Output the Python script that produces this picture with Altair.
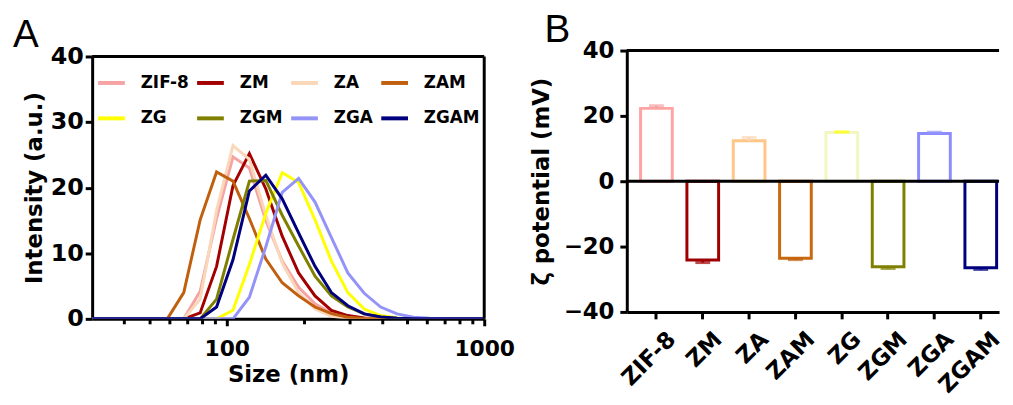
import altair as alt
import pandas as pd

# ---------------- Panel A data (DLS size distribution) ----------------
sizes = [28.21, 32.67, 37.84, 43.82, 50.75, 58.77, 68.06, 78.82, 91.28, 105.7, 122.4,
         141.8, 164.2, 190.1, 220.2, 255.0, 295.3, 342.0, 396.1, 458.7, 531.2, 615.1,
         712.4, 825.0, 955.4, 1106.0]

zif8 = [0, 0, 0, 0, 0, 0, 0, 4.2, 15.3, 24.7, 23.0, 15.0, 8.8, 4.8, 2.3, 0.9, 0.3,
        0, 0, 0, 0, 0, 0, 0, 0, 0]
zm = [0, 0, 0, 0, 0, 0, 0, 0.9, 8.0, 20.3, 25.2, 19.8, 12.6, 7.0, 3.5, 1.3, 0.5, 0.15,
      0, 0, 0, 0, 0, 0, 0, 0]
za = [0, 0, 0, 0, 0, 0, 0, 3.0, 16.5, 26.4, 24.3, 15.8, 8.5, 4.0, 1.5, 0.4, 0.1,
      0, 0, 0, 0, 0, 0, 0, 0, 0]
zam = [0, 0, 0, 0, 0, 0, 4.0, 15.1, 22.4, 21.0, 15.3, 9.1, 5.5, 3.5, 1.8, 0.8, 0.25, 0.05,
       0, 0, 0, 0, 0, 0, 0, 0]
zg = [0, 0, 0, 0, 0, 0, 0, 0, 0, 1.3, 8.3, 16.1, 22.3, 20.8, 15.1, 8.8, 4.0, 1.5, 0.5, 0.15,
      0, 0, 0, 0, 0, 0]
zgm = [0, 0, 0, 0, 0, 0, 0, 0, 3.0, 12.1, 21.0, 21.1, 15.8, 11.1, 6.5, 3.5, 1.8, 0.75, 0.3, 0.1,
       0, 0, 0, 0, 0, 0]
zga = [0, 0, 0, 0, 0, 0, 0, 0, 0, 0, 3.3, 11.0, 19.3, 21.4, 17.8, 12.4, 7.0, 3.9, 1.8, 0.75,
       0.25, 0.08, 0, 0, 0, 0]
zgam = [0, 0, 0, 0, 0, 0, 0, 0, 1.8, 9.0, 19.5, 21.9, 18.3, 13.1, 8.0, 4.0, 2.0, 0.75, 0.3, 0.1,
        0, 0, 0, 0, 0, 0]

samples = ["ZIF-8", "ZM", "ZA", "ZAM", "ZG", "ZGM", "ZGA", "ZGAM"]
colors_a = ["#F5A3A3", "#A30000", "#FAD7B8", "#C0600F", "#FFFF00", "#808000", "#9494F8", "#00007F"]

# ---------------- Panel B data (zeta potential) ----------------
zeta = [22.3, -24.1, 12.4, -23.6, 14.9, -26.2, 14.6, -26.5]
zeta_err = [0.8, 0.8, 1.0, 0.4, 0.2, 0.5, 0.4, 0.5]
colors_b = ["#FFA3A3", "#9E0000", "#FFC687", "#C8680F", "#F2F7C0", "#808000", "#8C8CFF", "#00007F"]

FONT = "DejaVu Sans"

series = [zif8, zm, za, zam, zg, zgm, zga, zgam]
rows = []
for name, vals in zip(samples, series):
    for s, v in zip(sizes, vals):
        rows.append({"size": s, "intensity": v, "sample": name})
df_a = pd.DataFrame(rows)

df_b = pd.DataFrame({"sample": samples, "zeta": zeta, "err": zeta_err})
df_b["err_end"] = [z + (e if z >= 0 else -e) for z, e in zip(zeta, zeta_err)]

x_ticks = [40, 50, 60, 70, 80, 90, 100, 200, 300, 400, 500, 600, 700, 800, 900, 1000]

# ---------------- Panel A ----------------
x_a = alt.X("size:Q",
            scale=alt.Scale(type="log", domain=[30, 1000], nice=False),
            axis=alt.Axis(title="Size (nm)", values=x_ticks, labelFontSize=22,
                          labelExpr="(datum.value == 100 || datum.value == 1000) ? format(datum.value, 'd') : ''",
                          labelOverlap=False, labelFlush=False, labelPadding=13,
                          titlePadding=4,
                          tickSize={"condition": {"test": "datum.value == 100 || datum.value == 1000", "value": 7}, "value": 5}))
y_a = alt.Y("intensity:Q", scale=alt.Scale(domain=[0, 40], nice=False, range=[271, 6]),
            axis=alt.Axis(title="Intensity (a.u.)", values=[0, 10, 20, 30, 40],
                          labelFontSize=24, tickSize=7, labelPadding=2, titlePadding=4))

lines = alt.Chart(df_a).mark_line(strokeWidth=3, clip=True).encode(
    x=x_a, y=y_a,
    color=alt.Color("sample:N", sort=samples,
                    scale=alt.Scale(domain=samples, range=colors_a),
                    legend=alt.Legend(orient="none", legendX=4, legendY=17,
                                      direction="horizontal", columns=4, title=None,
                                      symbolType="stroke", symbolSize=729,
                                      symbolStrokeWidth=4, labelFontSize=17,
                                      labelFont=FONT, labelFontWeight="bold",
                                      labelColor="black", columnPadding=0,
                                      rowPadding=12, labelOffset=14, gridAlign="each")),
    order=alt.Order("size:Q"),
)
top_a = alt.Chart(pd.DataFrame({"v": [0]})).mark_rule(strokeWidth=3, color="black").encode(
    y=alt.datum(40))
right_a = alt.Chart(pd.DataFrame({"v": [0]})).mark_rule(strokeWidth=3, color="black").encode(
    x=alt.datum(1000), y=alt.datum(0), y2=alt.datum(40))

chart_a = alt.layer(lines, top_a, right_a, title=alt.TitleParams(
    "A", anchor="start", frame="group", fontSize=39, font="Liberation Sans",
    fontWeight="normal", dx=-80, offset=-10, color="black")).properties(
    width=396, height=271, view=alt.ViewConfig(stroke="transparent"))

# ---------------- Panel B ----------------
x_b = alt.X("sample:N", sort=samples,
            scale=alt.Scale(paddingInner=0.316, paddingOuter=0.175, align=0.85),
            axis=alt.Axis(title=None, labelAngle=-45, tickSize=7, labelPadding=9,
                          labelOffset=8, labelFontSize=23))
y_b = alt.Y("zeta:Q", scale=alt.Scale(domain=[-40, 40], nice=False),
            axis=alt.Axis(title="ζ potential (mV)", values=[-40, -20, 0, 20, 40],
                          labelFontSize=23, tickSize=7, labelPadding=6, titlePadding=10))
col_b = alt.Scale(domain=samples, range=colors_b)

bars = alt.Chart(df_b).mark_bar(fill="white", strokeWidth=3).encode(
    x=x_b, y=y_b,
    stroke=alt.Stroke("sample:N", scale=col_b, legend=None),
)
stems = alt.Chart(df_b).mark_rule(strokeWidth=3).encode(
    x=x_b, y="zeta:Q", y2="err_end:Q",
    color=alt.Color("sample:N", scale=col_b, legend=None),
)
caps = alt.Chart(df_b).mark_tick(thickness=3, size=15).encode(
    x=x_b, y="err_end:Q",
    color=alt.Color("sample:N", scale=col_b, legend=None),
)
zero = alt.Chart(pd.DataFrame({"v": [0]})).mark_rule(strokeWidth=3, color="black").encode(
    y=alt.datum(0))
top_b = alt.Chart(pd.DataFrame({"v": [0]})).mark_rule(strokeWidth=3, color="black").encode(
    y=alt.datum(40))

chart_b = alt.layer(bars, stems, caps, zero, top_b, title=alt.TitleParams(
    "B", anchor="start", frame="group", fontSize=39, font="Liberation Sans",
    fontWeight="normal", dx=-83, offset=-10, color="black")).properties(
    width=376, height=264, view=alt.ViewConfig(stroke="transparent"))

chart = alt.hconcat(chart_a, chart_b, spacing=14).properties(
    padding={"left": 4, "top": 0, "right": 0, "bottom": 0}
).configure_axis(
    labelFont=FONT, labelFontWeight="bold", labelColor="black",
    titleFont=FONT, titleFontWeight="bold", titleFontSize=23, titleColor="black",
    domainColor="black", domainWidth=3, tickColor="black", tickWidth=3, grid=False,
)

chart.save("out.html", embed_options={"renderer": "svg", "actions": False})
